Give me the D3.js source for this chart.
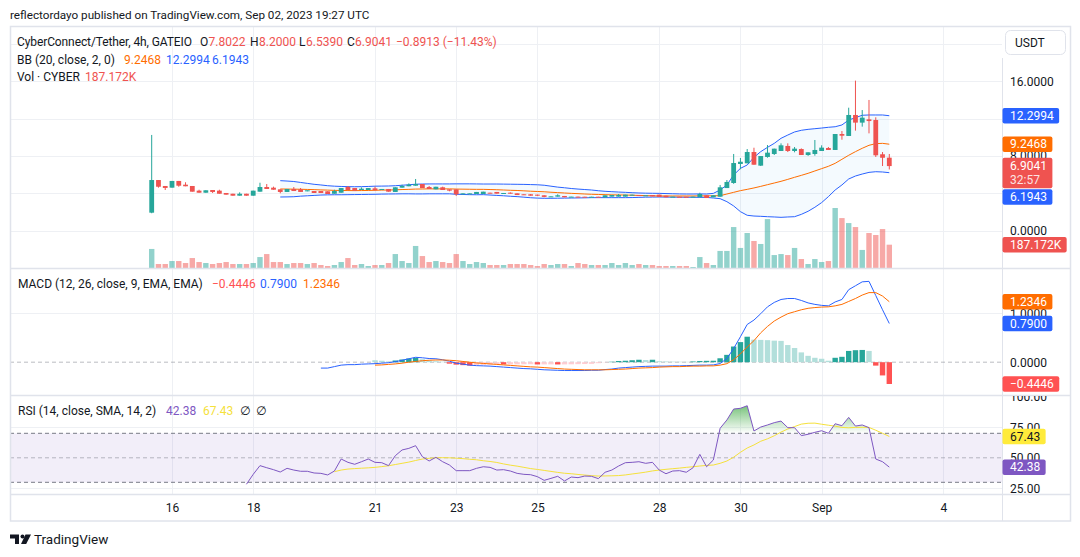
<!DOCTYPE html>
<html>
<head>
<meta charset="utf-8">
<script src="https://cdn.jsdelivr.net/npm/d3@7"></script>
<style>
    body { margin: 0; background: #ffffff; }
    svg text { font-family: Roboto, "Noto Sans", "DejaVu Sans", sans-serif; fill: #131722; }
</style>
</head>
<body>
<div class="tv-chart"></div>
<script>

// ---------------------------------------------------------------------------
// Data (GATEIO), first bar Aug 15 12:00 UTC
// ---------------------------------------------------------------------------

var firstBar = Date.UTC(2023, 7, 15, 12);

var candleOpen = [
    1.91, 5.41, 4.77, 4.59, 5.31, 4.91, 4.77, 4.27, 4.05, 4.34,
    4.27, 4.02, 3.94, 3.73, 3.94, 3.73, 4.16, 4.66, 4.59, 4.41,
    4.13, 4.45, 4.41, 4.20, 4.23, 4.23, 4.20, 3.94, 4.05, 4.66,
    4.55, 4.34, 4.34, 4.52, 4.34, 4.45, 4.13, 4.59, 4.74, 4.80,
    4.98, 4.66, 4.41, 4.63, 4.41, 4.41, 3.91, 3.95, 3.91, 3.91,
    4.05, 4.13, 3.95, 4.05, 3.98, 3.88, 3.88, 3.84, 3.77, 3.60,
    3.63, 3.70, 3.60, 3.63, 3.62, 3.58, 3.62, 3.55, 3.63, 3.63,
    3.63, 3.77, 3.80, 3.73, 3.80, 3.84, 3.73, 3.60, 3.62, 3.62,
    3.58, 3.56, 3.77, 3.56, 3.62, 4.55, 5.09, 7.13, 7.20, 8.41,
    6.95, 7.88, 8.20, 8.52, 9.06, 8.52, 8.73, 8.09, 8.20, 8.52,
    8.84, 8.63, 10.34, 10.13, 12.38, 11.56, 11.91, 11.84, 8.17, 7.8022
];

var candleHigh = [
    10.24, 5.41, 4.77, 5.31, 5.31, 5.17, 4.77, 4.37, 4.31, 4.34,
    4.37, 4.02, 3.94, 4.09, 3.94, 4.27, 5.12, 4.98, 4.70, 4.41,
    4.45, 4.66, 4.55, 4.31, 4.23, 4.23, 4.20, 4.37, 4.55, 4.77,
    4.55, 4.62, 4.55, 4.70, 4.45, 4.45, 4.63, 4.91, 5.05, 5.52,
    4.98, 4.77, 4.69, 4.70, 4.41, 4.41, 3.98, 3.98, 4.13, 4.16,
    4.05, 4.13, 4.02, 4.09, 3.98, 3.88, 3.91, 3.84, 3.77, 3.66,
    3.88, 3.70, 3.63, 3.63, 3.62, 3.62, 3.62, 3.77, 3.80, 3.91,
    3.84, 3.84, 3.80, 3.77, 3.80, 3.84, 3.73, 3.63, 3.62, 3.62,
    3.63, 4.05, 3.77, 3.77, 4.88, 5.41, 8.20, 7.77, 8.73, 8.87,
    7.98, 9.16, 8.77, 9.34, 9.34, 8.95, 8.80, 8.38, 9.70, 9.13,
    8.95, 10.34, 10.66, 13.16, 16.06, 12.91, 13.99, 12.13, 8.41, 8.20
];

var candleLow = [
    1.85, 4.59, 4.34, 4.59, 4.69, 4.74, 4.16, 4.05, 4.05, 4.02,
    3.94, 3.84, 3.73, 3.73, 3.73, 3.73, 4.16, 4.45, 4.37, 3.99,
    4.13, 4.23, 4.13, 4.20, 4.02, 4.02, 3.91, 3.94, 4.05, 4.34,
    4.27, 4.34, 4.34, 4.31, 4.34, 4.16, 4.13, 4.59, 4.74, 4.80,
    4.55, 4.45, 4.41, 4.34, 4.20, 3.70, 3.88, 3.91, 3.91, 3.91,
    3.98, 3.95, 3.95, 3.95, 3.80, 3.80, 3.73, 3.70, 3.56, 3.60,
    3.63, 3.56, 3.60, 3.57, 3.58, 3.58, 3.59, 3.55, 3.63, 3.63,
    3.63, 3.77, 3.73, 3.73, 3.66, 3.60, 3.56, 3.60, 3.59, 3.58,
    3.58, 3.56, 3.48, 3.56, 3.62, 4.55, 5.00, 6.56, 7.20, 7.05,
    6.91, 7.80, 8.09, 8.52, 8.41, 8.38, 8.09, 8.00, 8.02, 8.52,
    8.63, 8.63, 9.73, 10.13, 10.70, 11.13, 10.41, 7.88, 6.91, 6.539
];

var candleClose = [
    5.41, 4.69, 4.56, 5.31, 4.80, 4.74, 4.16, 4.05, 4.31, 4.13,
    3.94, 3.84, 3.73, 3.94, 3.73, 4.27, 4.66, 4.45, 4.37, 4.13,
    4.45, 4.23, 4.13, 4.31, 4.02, 4.02, 3.91, 4.23, 4.55, 4.34,
    4.27, 4.48, 4.55, 4.31, 4.45, 4.16, 4.63, 4.77, 4.91, 4.98,
    4.55, 4.45, 4.69, 4.34, 4.27, 3.88, 3.98, 3.98, 4.13, 4.16,
    3.98, 3.95, 4.02, 3.95, 3.80, 3.82, 3.73, 3.73, 3.60, 3.66,
    3.77, 3.56, 3.63, 3.57, 3.58, 3.62, 3.59, 3.77, 3.80, 3.80,
    3.84, 3.84, 3.73, 3.77, 3.66, 3.60, 3.56, 3.63, 3.59, 3.58,
    3.63, 3.91, 3.48, 3.77, 4.63, 5.20, 7.23, 7.37, 8.41, 7.05,
    7.98, 8.34, 8.77, 9.13, 8.52, 8.77, 8.09, 8.38, 8.63, 8.88,
    8.63, 10.34, 10.16, 12.38, 11.56, 12.09, 11.73, 8.06, 7.7954, 6.9041
];

// volume in thousands of CYBER
var volumeK = [
    153, 32, 32, 56, 56, 40, 80, 48, 40, 32,
    40, 48, 32, 32, 32, 40, 88, 112, 48, 48,
    32, 40, 40, 32, 40, 24, 16, 24, 48, 80,
    24, 32, 16, 24, 24, 40, 112, 56, 40, 177,
    96, 48, 56, 48, 40, 112, 56, 32, 48, 40,
    24, 24, 24, 32, 32, 32, 24, 16, 32, 24,
    32, 32, 16, 40, 32, 24, 24, 24, 40, 24,
    40, 24, 32, 24, 24, 16, 16, 16, 16, 16,
    8, 88, 40, 24, 137, 137, 329, 161, 281, 217,
    193, 393, 104, 112, 104, 161, 72, 32, 72, 48,
    56, 482, 401, 361, 329, 145, 281, 265, 313, 187.172
];

// leading empty bars before an indicator has enough history
function lead(n, values) {
    return new Array(n).fill(null).concat(values);
}

// Bollinger Bands (20, close, 2)
var bbUpper = lead(19, [
    5.34,
    5.30, 5.25, 5.15, 5.05, 4.95, 4.88, 4.80, 4.75, 4.72, 4.70,
    4.69, 4.70, 4.72, 4.75, 4.76, 4.77, 4.80, 4.85, 4.90, 4.96,
    4.98, 4.99, 4.99, 4.99, 4.99, 5.00, 5.00, 5.00, 4.99, 4.98,
    4.98, 4.98, 4.97, 4.96, 4.95, 4.94, 4.92, 4.90, 4.85, 4.75,
    4.65, 4.58, 4.50, 4.44, 4.39, 4.34, 4.26, 4.20, 4.16, 4.12,
    4.09, 4.05, 4.02, 4.00, 3.99, 3.98, 3.96, 3.94, 3.92, 3.91,
    3.91, 3.92, 3.91, 3.98, 4.34, 4.88, 5.95, 6.66, 7.02, 7.84,
    8.45, 8.91, 9.34, 9.88, 10.23, 10.56, 10.74, 10.84, 10.91, 10.98,
    11.06, 11.12, 11.31, 11.84, 12.09, 12.35, 12.38, 12.38, 12.38, 12.2994
]);

var bbBasis = lead(19, [
    4.45,
    4.44, 4.43, 4.42, 4.40, 4.38, 4.35, 4.33, 4.30, 4.29, 4.28,
    4.27, 4.28, 4.29, 4.31, 4.33, 4.34, 4.36, 4.39, 4.41, 4.44,
    4.45, 4.46, 4.46, 4.46, 4.46, 4.44, 4.43, 4.42, 4.41, 4.41,
    4.39, 4.37, 4.34, 4.31, 4.29, 4.25, 4.21, 4.18, 4.15, 4.10,
    4.06, 4.02, 3.98, 3.95, 3.91, 3.88, 3.86, 3.84, 3.82, 3.81,
    3.80, 3.78, 3.76, 3.74, 3.72, 3.70, 3.70, 3.70, 3.70, 3.70,
    3.70, 3.71, 3.71, 3.72, 3.73, 3.91, 4.09, 4.27, 4.41, 4.56,
    4.73, 4.91, 5.09, 5.27, 5.48, 5.70, 5.91, 6.13, 6.38, 6.63,
    6.88, 7.20, 7.63, 8.06, 8.45, 8.81, 9.13, 9.31, 9.34, 9.2468
]);

var bbLower = lead(19, [
    3.59,
    3.60, 3.62, 3.68, 3.72, 3.76, 3.80, 3.82, 3.83, 3.83, 3.84,
    3.85, 3.86, 3.87, 3.88, 3.90, 3.91, 3.92, 3.93, 3.93, 3.92,
    3.92, 3.93, 3.93, 3.93, 3.93, 3.88, 3.86, 3.84, 3.83, 3.84,
    3.80, 3.76, 3.72, 3.67, 3.63, 3.57, 3.51, 3.47, 3.45, 3.45,
    3.46, 3.47, 3.48, 3.49, 3.50, 3.52, 3.52, 3.52, 3.52, 3.52,
    3.52, 3.53, 3.55, 3.57, 3.58, 3.59, 3.58, 3.57, 3.57, 3.56,
    3.56, 3.55, 3.55, 3.48, 3.41, 3.09, 2.63, 2.02, 1.63, 1.55,
    1.52, 1.48, 1.45, 1.41, 1.45, 1.48, 1.73, 2.06, 2.49, 2.99,
    3.63, 4.34, 4.88, 5.52, 5.84, 6.05, 6.23, 6.30, 6.27, 6.1943
]);

// MACD (12, 26, close, 9)
var macdLine = lead(25, [
    -0.12, -0.12, -0.09, -0.06, -0.05,
    -0.05, -0.04, -0.035, -0.03, -0.02, -0.01, 0.01, 0.04, 0.07, 0.10,
    0.09, 0.075, 0.07, 0.05, 0.02, -0.02, -0.04, -0.06, -0.07, -0.075,
    -0.08, -0.09, -0.10, -0.11, -0.12, -0.13, -0.135, -0.145, -0.155, -0.16,
    -0.165, -0.17, -0.17, -0.17, -0.17, -0.165, -0.165, -0.15, -0.14, -0.12,
    -0.11, -0.10, -0.09, -0.085, -0.08, -0.08, -0.08, -0.075, -0.075, -0.07,
    -0.065, -0.06, -0.06, -0.055, -0.027, 0.075, 0.28, 0.52, 0.77, 0.86,
    0.99, 1.13, 1.22, 1.28, 1.30, 1.30, 1.26, 1.21, 1.18, 1.16,
    1.15, 1.23, 1.28, 1.48, 1.56, 1.64, 1.65, 1.36, 1.07, 0.79
]);

var macdSignal = lead(33, [
    -0.06, -0.055, -0.045, -0.035, -0.02, 0.00, 0.015,
    0.03, 0.04, 0.045, 0.045, 0.04, 0.03, 0.015, 0.00, -0.015, -0.025,
    -0.035, -0.045, -0.055, -0.065, -0.075, -0.085, -0.095, -0.10, -0.11, -0.12,
    -0.13, -0.14, -0.145, -0.15, -0.155, -0.155, -0.155, -0.155, -0.15, -0.145,
    -0.14, -0.13, -0.12, -0.115, -0.11, -0.10, -0.095, -0.09, -0.09, -0.085,
    -0.08, -0.08, -0.075, -0.075, -0.06, -0.03, 0.05, 0.17, 0.31, 0.44,
    0.60, 0.73, 0.84, 0.92, 0.99, 1.03, 1.07, 1.10, 1.115, 1.125,
    1.13, 1.15, 1.18, 1.24, 1.30, 1.37, 1.42, 1.42, 1.35, 1.2346
]);

var macdHist = lead(33, [
    0.04, 0.03, 0.015, 0.035, 0.055, 0.075, 0.09,
    0.06, 0.035, 0.02, 0.01, -0.03, -0.05, -0.06, -0.07, -0.06, -0.055,
    -0.05, -0.045, -0.045, -0.044, -0.043, -0.042, -0.041, -0.046, -0.045, -0.044,
    -0.046, -0.045, -0.043, -0.04, -0.037, -0.034, -0.02, -0.005, 0.01, 0.025,
    0.03, 0.04, 0.05, 0.045, 0.05, 0.02, 0.015, 0.012, 0.01, 0.008,
    0.015, 0.025, 0.028, 0.03, 0.08, 0.15, 0.32, 0.41, 0.52, 0.46,
    0.455, 0.45, 0.44, 0.435, 0.35, 0.29, 0.20, 0.13, 0.09, 0.07,
    0.03, 0.09, 0.11, 0.23, 0.245, 0.25, 0.23, -0.07, -0.27, -0.4446
]);

// RSI (14) and its SMA (14)
var rsiLine = lead(14, [
    28.4, 36.5, 43.6, 41.9, 40.3, 38.4,
    41.4, 40.0, 39.0, 39.0, 37.6, 37.3, 36.0, 39.2, 49.0, 46.3,
    44.7, 46.8, 49.0, 46.3, 46.0, 43.6, 51.7, 56.4, 57.7, 59.9,
    50.9, 47.4, 50.4, 46.8, 44.1, 39.5, 39.5, 39.5, 41.4, 42.7,
    42.2, 40.0, 40.3, 39.2, 37.3, 36.5, 36.2, 34.6, 31.6, 33.2,
    34.9, 31.1, 34.3, 33.8, 35.1, 34.9, 33.0, 38.2, 40.0, 43.3,
    46.0, 46.3, 46.8, 45.5, 46.3, 40.0, 37.0, 39.2, 39.5, 38.2,
    41.9, 52.8, 42.7, 48.2, 74.1, 80.9, 89.8, 90.4, 92.5, 71.9,
    75.1, 76.8, 78.7, 80.0, 74.6, 74.6, 68.1, 69.2, 70.8, 72.1,
    70.0, 77.8, 76.2, 83.0, 75.9, 76.8, 74.6, 49.0, 46.8, 42.38
]);

var rsiMa = lead(27, [
    38.7, 40.0, 40.8,
    41.2, 41.5, 41.8, 42.2, 42.8, 43.5, 44.5, 45.5, 46.5, 47.8,
    49.0, 49.6, 50.0, 50.1, 50.0, 49.7, 49.3, 48.8, 48.4, 47.6,
    47.0, 46.2, 45.0, 44.0, 43.2, 42.2, 41.2, 40.5, 39.7, 38.9,
    38.1, 37.4, 37.0, 36.4, 35.9, 35.4, 35.1, 35.2, 35.3, 35.5,
    36.0, 36.8, 37.5, 38.3, 39.3, 40.0, 40.6, 41.1, 41.6, 42.2,
    42.7, 43.3, 43.8, 44.1, 45.5, 47.4, 50.5, 54.5, 58.0, 60.5,
    63.5, 65.5, 68.0, 71.0, 73.5, 75.5, 77.5, 78.2, 78.3, 77.4,
    76.6, 75.8, 74.8, 74.5, 74.8, 74.9, 74.8, 72.5, 70.0, 67.43
]);

// time axis ticks (UTC midnights) and their labels
var dayTicks = [
    Date.UTC(2023, 7, 16), Date.UTC(2023, 7, 18), Date.UTC(2023, 7, 21),
    Date.UTC(2023, 7, 23), Date.UTC(2023, 7, 25), Date.UTC(2023, 7, 28),
    Date.UTC(2023, 7, 30), Date.UTC(2023, 8, 1), Date.UTC(2023, 8, 4)
];
var dayTickLabels = ["16", "18", "21", "23", "25", "28", "30", "Sep", "4"];

var priceGrid = [0, 4, 8, 12, 16, 20];
var priceLabels = [0, 8, 16];
var macdGrid = [1];
var macdLabels = [0, 1];
var rsiGrid = [25, 75];
var rsiLabels = [25, 50, 75, 100];


/*
 * TVChart - draws the TradingView snapshot (price + BB + volume, MACD, RSI)
 * @param _parentElement  -- class of the HTML element that holds the svg
 */

TVChart = function(_parentElement) {
    this.parentElement = _parentElement;
    this.initVis();
}

TVChart.prototype.initVis = function() {
    var vis = this;

    vis.width = 1080;
    vis.height = 557;

    // chart frame, price scale column and the three panes
    vis.frame = { left: 10, right: 1070, top: 27, bottom: 521 };
    vis.axisX = 1002;
    vis.panes = {
        price: { top: 27, bottom: 268 },
        macd: { top: 268, bottom: 395 },
        rsi: { top: 395, bottom: 494 }
    };

    vis.svg = d3.select("." + vis.parentElement).append("svg")
        .attr("width", vis.width)
        .attr("height", vis.height);

    vis.times = candleClose.map(function(d, i) {
        return new Date(firstBar + i * 4 * 3600 * 1000);
    });

    // Set up scales
    vis.x = d3.scaleUtc()
        .domain([vis.times[0], vis.times[vis.times.length - 1]])
        .range([151.7, 889.3]);

    vis.yPrice = d3.scaleLinear().domain([0, 16]).range([230.5, 81.2]);
    vis.yVol = d3.scaleLinear().domain([0, 482]).range([268, 208]);
    vis.yMacd = d3.scaleLinear().domain([0, 1]).range([362.2, 313.2]);
    vis.yRsi = d3.scaleLinear().domain([30, 70]).range([482.3, 433.3]);

    vis.upColor = "#26a69a";
    vis.downColor = "#ef5350";

    vis.defs = vis.svg.append("defs");
    Object.keys(vis.panes).forEach(function(key) {
        var p = vis.panes[key];
        vis.defs.append("clipPath").attr("id", "clip-" + key)
            .append("rect")
            .attr("x", vis.frame.left).attr("y", p.top)
            .attr("width", vis.axisX - vis.frame.left).attr("height", p.bottom - p.top);
        // same band, but for the labels on the price scale column
        vis.defs.append("clipPath").attr("id", "clip-axis-" + key)
            .append("rect")
            .attr("x", 0).attr("y", p.top + 1)
            .attr("width", 70).attr("height", p.bottom - p.top - 1);
    });

    vis.drawGrid();
    vis.drawPrice();
    vis.drawMacd();
    vis.drawRsi();
    vis.drawFrame();
    vis.drawAxes();
    vis.drawBadges();
    vis.drawLegends();
}


/*
 * Grid lines shared by the panes
 */

TVChart.prototype.drawGrid = function() {
    var vis = this;
    var grid = vis.svg.append("g").attr("class", "grid")
        .attr("stroke", "#eef0f4").attr("stroke-width", 1);

    grid.selectAll(".v-grid")
        .data(dayTicks)
        .enter().append("line")
        .attr("class", "v-grid")
        .attr("x1", function(d) { return Math.round(vis.x(d)) + 0.5; })
        .attr("x2", function(d) { return Math.round(vis.x(d)) + 0.5; })
        .attr("y1", vis.frame.top)
        .attr("y2", vis.panes.rsi.bottom);

    var hGrid = [];
    priceGrid.forEach(function(v) { hGrid.push(vis.yPrice(v)); });
    macdGrid.forEach(function(v) { hGrid.push(vis.yMacd(v)); });
    rsiGrid.forEach(function(v) { hGrid.push(vis.yRsi(v)); });

    grid.selectAll(".h-grid")
        .data(hGrid)
        .enter().append("line")
        .attr("class", "h-grid")
        .attr("x1", vis.frame.left)
        .attr("x2", vis.axisX)
        .attr("y1", function(d) { return Math.round(d) + 0.5; })
        .attr("y2", function(d) { return Math.round(d) + 0.5; });
}


/*
 * Main pane: Bollinger Bands, volume and candles
 */

TVChart.prototype.drawPrice = function() {
    var vis = this;
    var g = vis.svg.append("g").attr("clip-path", "url(#clip-price)");
    var idx = d3.range(vis.times.length);

    var bbArea = d3.area()
        .defined(function(i) { return bbUpper[i] !== null; })
        .x(function(i) { return vis.x(vis.times[i]); })
        .y0(function(i) { return vis.yPrice(bbLower[i]); })
        .y1(function(i) { return vis.yPrice(bbUpper[i]); });

    g.append("path")
        .datum(idx)
        .attr("d", bbArea)
        .attr("fill", "#2196f3")
        .attr("fill-opacity", 0.05);

    var lineOf = function(series, yScale) {
        return d3.line()
            .defined(function(d) { return d !== null; })
            .x(function(d, i) { return vis.x(vis.times[i]); })
            .y(function(d) { return yScale(d); });
    };

    [[bbUpper, "#2962ff"], [bbLower, "#2962ff"], [bbBasis, "#ff6d00"]].forEach(function(s) {
        g.append("path")
            .datum(s[0])
            .attr("d", lineOf(s[0], vis.yPrice))
            .attr("fill", "none")
            .attr("stroke", s[1])
            .attr("stroke-width", 1);
    });

    // volume overlay
    g.selectAll(".vol")
        .data(idx)
        .enter().append("rect")
        .attr("class", "vol")
        .attr("x", function(i) { return vis.x(vis.times[i]) - 2.7; })
        .attr("width", 5.4)
        .attr("y", function(i) { return vis.yVol(volumeK[i]); })
        .attr("height", function(i) { return vis.yVol(0) - vis.yVol(volumeK[i]); })
        .attr("fill", function(i) {
            return candleClose[i] >= candleOpen[i] ? "rgba(38,166,154,0.5)" : "rgba(239,83,80,0.5)";
        });

    // candles
    var candle = g.selectAll(".candle")
        .data(idx)
        .enter().append("g")
        .attr("class", "candle")
        .attr("fill", function(i) { return candleClose[i] >= candleOpen[i] ? vis.upColor : vis.downColor; })
        .attr("stroke", function(i) { return candleClose[i] >= candleOpen[i] ? vis.upColor : vis.downColor; });

    candle.append("line")
        .attr("x1", function(i) { return vis.x(vis.times[i]); })
        .attr("x2", function(i) { return vis.x(vis.times[i]); })
        .attr("y1", function(i) { return vis.yPrice(candleHigh[i]); })
        .attr("y2", function(i) { return vis.yPrice(candleLow[i]); })
        .attr("stroke-width", 1);

    candle.append("rect")
        .attr("stroke", "none")
        .attr("x", function(i) { return vis.x(vis.times[i]) - 2.4; })
        .attr("width", 4.8)
        .attr("y", function(i) { return vis.yPrice(Math.max(candleOpen[i], candleClose[i])); })
        .attr("height", function(i) {
            return Math.max(1, Math.abs(vis.yPrice(candleOpen[i]) - vis.yPrice(candleClose[i])));
        });

    vis.lineOf = lineOf;
}


/*
 * MACD pane
 */

TVChart.prototype.drawMacd = function() {
    var vis = this;
    var g = vis.svg.append("g").attr("clip-path", "url(#clip-macd)");
    var idx = d3.range(vis.times.length).filter(function(i) { return macdHist[i] !== null; });

    g.append("line")
        .attr("x1", vis.frame.left).attr("x2", vis.axisX)
        .attr("y1", vis.yMacd(0)).attr("y2", vis.yMacd(0))
        .attr("stroke", "#787b86").attr("stroke-opacity", 0.5)
        .attr("stroke-dasharray", "4,3");

    g.selectAll(".hist")
        .data(idx)
        .enter().append("rect")
        .attr("class", "hist")
        .attr("x", function(i) { return vis.x(vis.times[i]) - 2.7; })
        .attr("width", 5.4)
        .attr("y", function(i) { return vis.yMacd(Math.max(0, macdHist[i])); })
        .attr("height", function(i) { return Math.abs(vis.yMacd(macdHist[i]) - vis.yMacd(0)); })
        .attr("fill", function(i) {
            var v = macdHist[i], prev = macdHist[i - 1];
            var rising = prev !== null && prev < v;
            if (v >= 0) return rising ? "#26a69a" : "#b2dfdb";
            return rising ? "#ffcdd2" : "#ff5252";
        });

    [[macdLine, "#2962ff"], [macdSignal, "#ff6d00"]].forEach(function(s) {
        g.append("path")
            .datum(s[0])
            .attr("d", vis.lineOf(s[0], vis.yMacd))
            .attr("fill", "none")
            .attr("stroke", s[1])
            .attr("stroke-width", 1);
    });
}


/*
 * RSI pane
 */

TVChart.prototype.drawRsi = function() {
    var vis = this;
    var g = vis.svg.append("g").attr("clip-path", "url(#clip-rsi)");

    g.append("rect")
        .attr("x", vis.frame.left).attr("width", vis.axisX - vis.frame.left)
        .attr("y", vis.yRsi(70)).attr("height", vis.yRsi(30) - vis.yRsi(70))
        .attr("fill", "#7e57c2").attr("fill-opacity", 0.1);

    [[70, 1], [50, 0.5], [30, 1]].forEach(function(b) {
        g.append("line")
            .attr("x1", vis.frame.left).attr("x2", vis.axisX)
            .attr("y1", vis.yRsi(b[0])).attr("y2", vis.yRsi(b[0]))
            .attr("stroke", "#787b86").attr("stroke-opacity", b[1])
            .attr("stroke-dasharray", "4,3");
    });

    // overbought / oversold gradient fills
    var ob = vis.defs.append("linearGradient").attr("id", "rsi-ob")
        .attr("gradientUnits", "userSpaceOnUse")
        .attr("x1", 0).attr("x2", 0).attr("y1", vis.yRsi(100)).attr("y2", vis.yRsi(70));
    ob.append("stop").attr("offset", 0).attr("stop-color", "#4caf50").attr("stop-opacity", 1);
    ob.append("stop").attr("offset", 1).attr("stop-color", "#4caf50").attr("stop-opacity", 0);

    var os = vis.defs.append("linearGradient").attr("id", "rsi-os")
        .attr("gradientUnits", "userSpaceOnUse")
        .attr("x1", 0).attr("x2", 0).attr("y1", vis.yRsi(30)).attr("y2", vis.yRsi(0));
    os.append("stop").attr("offset", 0).attr("stop-color", "#f23645").attr("stop-opacity", 0);
    os.append("stop").attr("offset", 1).attr("stop-color", "#f23645").attr("stop-opacity", 1);

    vis.defs.append("clipPath").attr("id", "clip-ob").append("rect")
        .attr("x", vis.frame.left).attr("y", vis.panes.rsi.top)
        .attr("width", vis.axisX - vis.frame.left).attr("height", vis.yRsi(70) - vis.panes.rsi.top);
    vis.defs.append("clipPath").attr("id", "clip-os").append("rect")
        .attr("x", vis.frame.left).attr("y", vis.yRsi(30))
        .attr("width", vis.axisX - vis.frame.left).attr("height", vis.panes.rsi.bottom - vis.yRsi(30));

    var fillTo = function(level) {
        return d3.area()
            .defined(function(d) { return d !== null; })
            .x(function(d, i) { return vis.x(vis.times[i]); })
            .y0(vis.yRsi(level))
            .y1(function(d) { return vis.yRsi(d); });
    };

    g.append("path").datum(rsiLine).attr("d", fillTo(70))
        .attr("fill", "url(#rsi-ob)").attr("clip-path", "url(#clip-ob)");
    g.append("path").datum(rsiLine).attr("d", fillTo(30))
        .attr("fill", "url(#rsi-os)").attr("clip-path", "url(#clip-os)");

    [[rsiMa, "#f5e13b"], [rsiLine, "#7e57c2"]].forEach(function(s) {
        g.append("path")
            .datum(s[0])
            .attr("d", vis.lineOf(s[0], vis.yRsi))
            .attr("fill", "none")
            .attr("stroke", s[1])
            .attr("stroke-width", 1);
    });
}


/*
 * Outer frame, pane separators and price scale column
 */

TVChart.prototype.drawFrame = function() {
    var vis = this;
    var f = vis.frame;
    var g = vis.svg.append("g").attr("class", "frame")
        .attr("stroke", "#e0e3eb").attr("fill", "none");

    g.append("rect")
        .attr("x", f.left + 0.5).attr("y", f.top - 0.5)
        .attr("width", f.right - f.left).attr("height", f.bottom - f.top + 0.5)
        .attr("stroke-width", 1.5);

    [vis.panes.price.bottom, vis.panes.macd.bottom, vis.panes.rsi.bottom].forEach(function(y) {
        g.append("line")
            .attr("x1", f.left).attr("x2", f.right)
            .attr("y1", y + 0.5).attr("y2", y + 0.5)
            .attr("stroke-width", 1.5);
    });

    g.append("line")
        .attr("x1", vis.axisX + 0.5).attr("x2", vis.axisX + 0.5)
        .attr("y1", 58).attr("y2", f.bottom)
        .attr("stroke-width", 1);

    // currency button
    g.append("rect")
        .attr("x", 1005.5).attr("y", 30.5).attr("width", 60).attr("height", 24).attr("rx", 5)
        .attr("fill", "#ffffff");
    vis.svg.append("text")
        .attr("x", 1015).attr("y", 43).attr("dy", "0.35em")
        .style("font-size", "12px")
        .text("USDT");
}


/*
 * Time axis and the price / MACD / RSI scales
 */

TVChart.prototype.drawAxes = function() {
    var vis = this;

    var xAxis = d3.axisBottom(vis.x)
        .tickValues(dayTicks.map(function(d) { return new Date(d); }))
        .tickFormat(function(d, i) { return dayTickLabels[i]; })
        .tickSize(0)
        .tickPadding(9);

    var xg = vis.svg.append("g")
        .attr("class", "x-axis axis")
        .attr("transform", "translate(0," + vis.panes.rsi.bottom + ")")
        .call(xAxis);

    // labels on the price scale are cut at the edge of their own pane
    var rightAxis = function(scale, values, fmt, pane) {
        var ax = d3.axisRight(scale).tickValues(values).tickFormat(d3.format(fmt))
            .tickSize(0).tickPadding(8);
        return vis.svg.append("g")
            .attr("class", "y-axis axis")
            .attr("transform", "translate(" + vis.axisX + ",0)")
            .attr("clip-path", "url(#clip-axis-" + pane + ")")
            .call(ax);
    };

    var axes = [
        xg,
        rightAxis(vis.yPrice, priceLabels, ".4f", "price"),
        rightAxis(vis.yMacd, macdLabels, ".4f", "macd"),
        rightAxis(vis.yRsi, rsiLabels, ".2f", "rsi")
    ];

    axes.forEach(function(a) {
        a.select(".domain").remove();
        a.selectAll("text")
            .style("font-size", "12px")
            .style("font-family", "Roboto, sans-serif")
            .attr("fill", "#131722");
    });
}


/*
 * Last-value labels on the price scale
 */

TVChart.prototype.drawBadges = function() {
    var vis = this;
    var g = vis.svg.append("g").attr("class", "badges");

    var badge = function(yCenter, label, bg, fg, second) {
        var h = second ? 30.6 : 15.5;
        var top = second ? yCenter - 8.4 : yCenter - h / 2;
        var b = g.append("g");
        var rect = b.append("rect")
            .attr("x", vis.axisX + 0.5).attr("y", top)
            .attr("height", h).attr("rx", 2)
            .attr("fill", bg);
        var t = b.append("text")
            .attr("x", vis.axisX + 8).attr("y", top + 7.8).attr("dy", "0.35em")
            .style("font-size", "12px")
            .attr("fill", fg)
            .style("fill", fg)
            .text(label);
        if (second) {
            b.append("text")
                .attr("x", vis.axisX + 8).attr("y", top + 22.5).attr("dy", "0.35em")
                .style("font-size", "12px")
                .style("fill", "rgba(255,255,255,0.85)")
                .text(second);
        }
        rect.attr("width", t.node().getComputedTextLength() + 13);
        return top + h;
    };

    var n = candleClose.length - 1;
    var fmt4 = d3.format(".4f");

    // price pane, stacked top to bottom so they do not overlap
    badge(vis.yPrice(bbUpper[n]), fmt4(bbUpper[n]), "#2962ff", "#ffffff");
    badge(vis.yPrice(bbBasis[n]), fmt4(bbBasis[n]), "#ff6d00", "#ffffff");
    var bottom = badge(vis.yPrice(candleClose[n]), fmt4(candleClose[n]), "#ef5350", "#ffffff", "32:57");
    badge(Math.max(vis.yPrice(bbLower[n]), bottom + 1 + 7.75), fmt4(bbLower[n]), "#2962ff", "#ffffff");
    badge(vis.yVol(volumeK[n]), d3.format(".3f")(volumeK[n]) + "K", "#ef5350", "#ffffff");

    // MACD pane
    badge(vis.yMacd(macdSignal[n]), fmt4(macdSignal[n]), "#ff6d00", "#ffffff");
    badge(vis.yMacd(macdLine[n]), fmt4(macdLine[n]), "#2962ff", "#ffffff");
    badge(vis.yMacd(macdHist[n]), fmt4(macdHist[n]).replace("-", "\u2212"), "#ff5252", "#ffffff");

    // RSI pane
    badge(vis.yRsi(rsiMa[n]), d3.format(".2f")(rsiMa[n]), "#ffeb3b", "#131722");
    badge(vis.yRsi(rsiLine[n]), d3.format(".2f")(rsiLine[n]), "#7e57c2", "#ffffff");
}


/*
 * Header, pane legends and footer
 */

TVChart.prototype.drawLegends = function() {
    var vis = this;

    // parts: [x, text, colour, stretched width]
    var textRow = function(y, parts, size) {
        parts.forEach(function(p) {
            var t = vis.svg.append("text")
                .attr("x", p[0]).attr("y", y).attr("dy", "0.35em")
                .style("font-size", (size || 12) + "px")
                .style("fill", p[2] || "#131722")
                .text(p[1]);
            if (p[3]) t.attr("textLength", p[3]).attr("lengthAdjust", "spacing");
        });
    };

    var red = "#ef5350";
    var n = candleClose.length - 1;
    var f4 = d3.format(".4f");
    var change = candleClose[n] - candleClose[n - 1];
    var changePct = change / candleClose[n - 1] * 100;

    textRow(15, [[10, "reflectordayo published on TradingView.com, Sep 02, 2023 19:27 UTC"]], 11.7);

    textRow(41.5, [
        [17, "CyberConnect/Tether, 4h, GATEIO", null, 175],
        [200, "O"], [208.5, f4(candleOpen[n]), red],
        [250, "H"], [259, f4(candleHigh[n]), red],
        [299, "L"], [306, f4(candleLow[n]), red],
        [347, "C"], [355, f4(candleClose[n]), red],
        [396, "\u2212" + f4(-change) + " (\u2212" + d3.format(".2f")(-changePct) + "%)", red]
    ]);

    textRow(59.3, [
        [17, "BB (20, close, 2, 0)"],
        [124, f4(bbBasis[n]), "#ff6d00"],
        [166, f4(bbUpper[n]), "#2962ff"],
        [212, f4(bbLower[n]), "#2962ff"]
    ]);

    textRow(76.7, [
        [17, "Vol \u00b7 CYBER"],
        [85, d3.format(".3f")(volumeK[n]) + "K", red]
    ]);

    textRow(284, [
        [18, "MACD (12, 26, close, 9, EMA, EMA)"],
        [212, "\u2212" + f4(-macdHist[n]), "#ff5252"],
        [260, f4(macdLine[n]), "#2962ff"],
        [303, f4(macdSignal[n]), "#ff6d00"]
    ]);

    textRow(410.5, [
        [18, "RSI (14, close, SMA, 14, 2)"],
        [166, d3.format(".2f")(rsiLine[n]), "#7e57c2"],
        [203, d3.format(".2f")(rsiMa[n]), "#f5e13b"],
        [240, "\u2205"], [256, "\u2205"]
    ]);

    // footer logo + wordmark
    var logo = vis.svg.append("g").attr("fill", "#131722");
    logo.append("path").attr("d", "M10,534.5 h9 v9.5 h-4 v-5.5 h-5 z");
    logo.append("circle").attr("cx", 22.5).attr("cy", 536.5).attr("r", 2);
    logo.append("path").attr("d", "M25.5,534.5 h5.5 l-4.8,9.5 h-5.2 z");
    textRow(539.5, [[34, "TradingView"]], 13.5);
}


var chart = new TVChart("tv-chart");

</script>
</body>
</html>
